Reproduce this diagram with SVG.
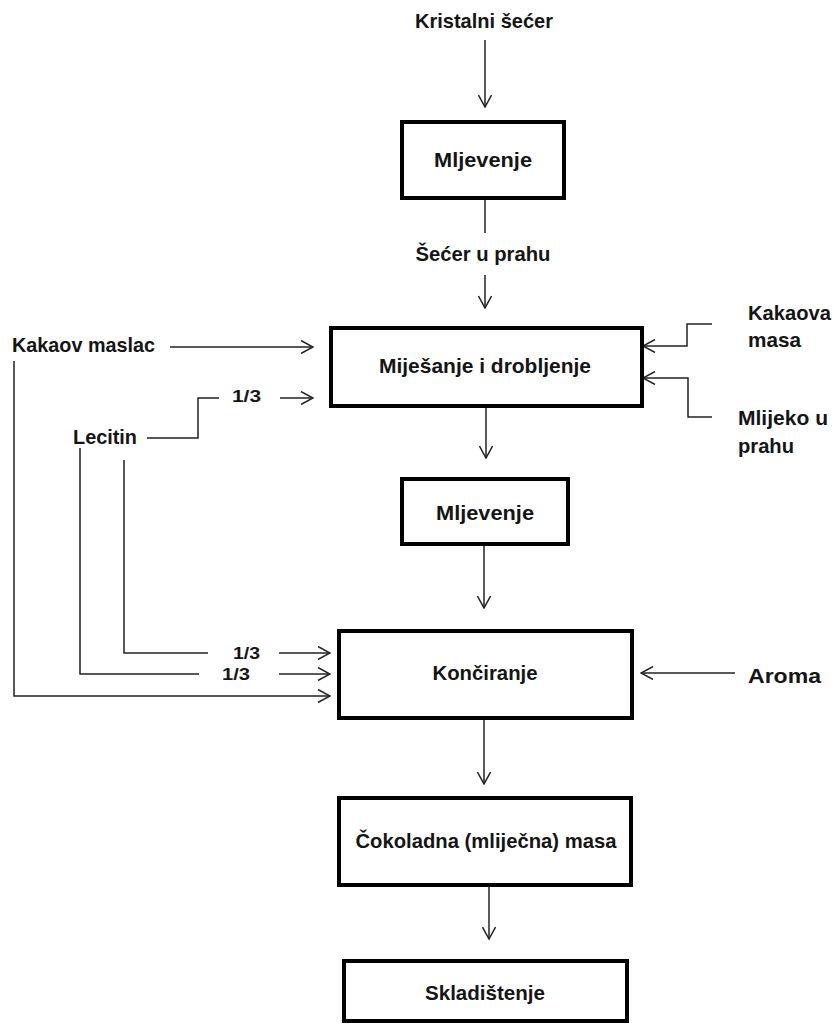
<svg xmlns="http://www.w3.org/2000/svg" width="834" height="1025" viewBox="0 0 834 1025">
<style>
  .box{fill:#fff;stroke:#000;stroke-width:4}
  .ln{fill:none;stroke:#222;stroke-width:1.5}
  .t{font-family:"Liberation Sans",Arial,sans-serif;font-weight:bold;font-size:21px;fill:#151515}
  .m{text-anchor:middle}
  .f{font-family:"Liberation Sans",Arial,sans-serif;font-weight:bold;font-size:16px;fill:#151515}
</style>
<defs>
  <marker id="ah" viewBox="0 0 14 14" refX="13" refY="7" markerWidth="14" markerHeight="14" markerUnits="userSpaceOnUse" orient="auto">
    <path d="M1,0.5 L13,7 L1,13.5" fill="none" stroke="#222" stroke-width="1.5"/>
  </marker>
</defs>
<rect width="834" height="1025" fill="#fff"/>

<g id="connectors">
  <line class="ln" x1="485" y1="40" x2="485" y2="107" marker-end="url(#ah)"/>
  <line class="ln" x1="485" y1="200" x2="485" y2="233"/>
  <line class="ln" x1="485" y1="275" x2="485" y2="308" marker-end="url(#ah)"/>
  <line class="ln" x1="170" y1="347" x2="313" y2="347" marker-end="url(#ah)"/>
  <polyline class="ln" points="147,438 198,438 198,398 219,398"/>
  <line class="ln" x1="280" y1="398" x2="313" y2="398" marker-end="url(#ah)"/>
  <polyline class="ln" points="712,324 687,324 687,346 643,346" marker-end="url(#ah)"/>
  <polyline class="ln" points="712,417 688,417 688,378 643,378" marker-end="url(#ah)"/>
  <line class="ln" x1="486" y1="408" x2="486" y2="458" marker-end="url(#ah)"/>
  <line class="ln" x1="484" y1="546" x2="484" y2="608" marker-end="url(#ah)"/>
  <polyline class="ln" points="124,460 124,653 208,653"/>
  <line class="ln" x1="279" y1="653" x2="330" y2="653" marker-end="url(#ah)"/>
  <polyline class="ln" points="80,448 80,674 199,674"/>
  <line class="ln" x1="279" y1="674" x2="330" y2="674" marker-end="url(#ah)"/>
  <polyline class="ln" points="14,361 14,696 330,696" marker-end="url(#ah)"/>
  <line class="ln" x1="735" y1="673" x2="641" y2="673" marker-end="url(#ah)"/>
  <line class="ln" x1="484" y1="720" x2="484" y2="784" marker-end="url(#ah)"/>
  <line class="ln" x1="489" y1="887" x2="489" y2="939" marker-end="url(#ah)"/>
</g>

<g id="input-kristalni">
  <text class="t m" x="484" y="28" textLength="138" lengthAdjust="spacingAndGlyphs">Kristalni šećer</text>
</g>
<g id="node-mljevenje1">
  <rect class="box" x="402" y="122" width="162" height="76"/>
  <text class="t m" x="483" y="167" textLength="98" lengthAdjust="spacingAndGlyphs">Mljevenje</text>
</g>
<g id="label-secer">
  <text class="t m" x="483" y="261" textLength="135" lengthAdjust="spacingAndGlyphs">Šećer u prahu</text>
</g>
<g id="node-mijesanje">
  <rect class="box" x="331" y="328" width="311" height="78"/>
  <text class="t m" x="485" y="373" textLength="212" lengthAdjust="spacingAndGlyphs">Miješanje i drobljenje</text>
</g>
<g id="input-kakaov-maslac">
  <text class="t" x="12" y="352" textLength="143" lengthAdjust="spacingAndGlyphs">Kakaov maslac</text>
</g>
<g id="input-lecitin">
  <text class="t" x="73" y="444" textLength="64" lengthAdjust="spacingAndGlyphs">Lecitin</text>
  <text class="f" x="232" y="402" textLength="29" lengthAdjust="spacingAndGlyphs">1/3</text>
  <text class="f" x="233" y="659" textLength="27" lengthAdjust="spacingAndGlyphs">1/3</text>
  <text class="f" x="222" y="680" textLength="28" lengthAdjust="spacingAndGlyphs">1/3</text>
</g>
<g id="input-kakaova-masa">
  <text class="t" x="748" y="320" textLength="83" lengthAdjust="spacingAndGlyphs">Kakaova</text>
  <text class="t" x="748" y="347" textLength="53" lengthAdjust="spacingAndGlyphs">masa</text>
</g>
<g id="input-mlijeko">
  <text class="t" x="738" y="425" textLength="90" lengthAdjust="spacingAndGlyphs">Mlijeko u</text>
  <text class="t" x="738" y="453" textLength="56" lengthAdjust="spacingAndGlyphs">prahu</text>
</g>
<g id="node-mljevenje2">
  <rect class="box" x="402" y="479" width="166" height="65"/>
  <text class="t m" x="485" y="520" textLength="98" lengthAdjust="spacingAndGlyphs">Mljevenje</text>
</g>
<g id="node-konciranje">
  <rect class="box" x="339" y="631" width="293" height="87"/>
  <text class="t m" x="485" y="680" textLength="105" lengthAdjust="spacingAndGlyphs">Končiranje</text>
</g>
<g id="input-aroma">
  <text class="t" x="748" y="683" textLength="73" lengthAdjust="spacingAndGlyphs">Aroma</text>
</g>
<g id="node-cokoladna">
  <rect class="box" x="339" y="798" width="292" height="87"/>
  <text class="t m" x="486" y="848" textLength="261" lengthAdjust="spacingAndGlyphs">Čokoladna (mliječna) masa</text>
</g>
<g id="node-skladistenje">
  <rect class="box" x="344" y="961" width="283" height="60"/>
  <text class="t m" x="485" y="1000" textLength="120" lengthAdjust="spacingAndGlyphs">Skladištenje</text>
</g>
</svg>
